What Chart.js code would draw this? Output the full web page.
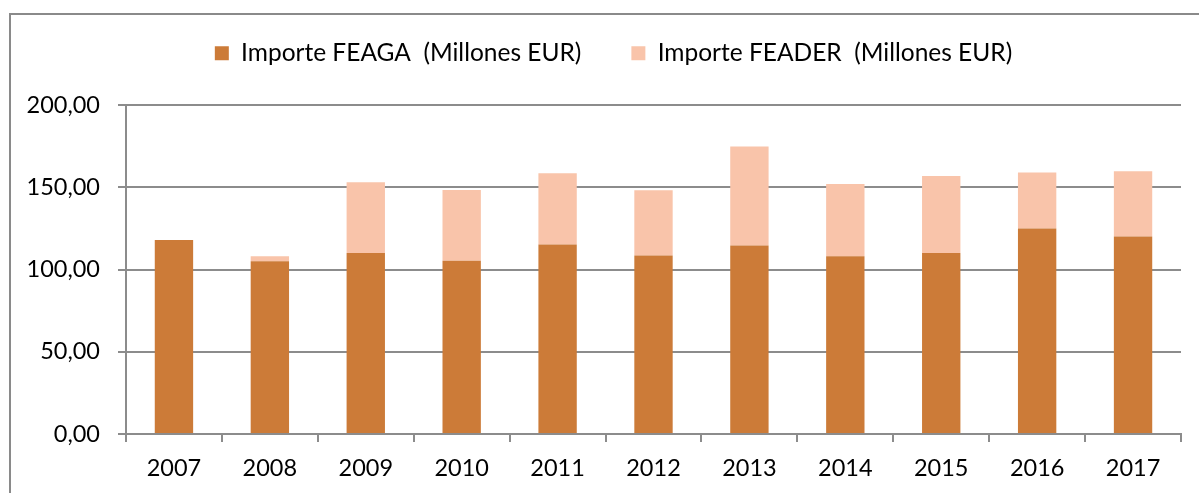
<!DOCTYPE html>
<html>
<head>
<meta charset="utf-8">
<script src="https://cdn.jsdelivr.net/npm/chart.js@4/dist/chart.umd.min.js"></script>
<style>
  html, body { margin: 0; padding: 0; background: #fff; overflow: hidden; }
  canvas { display: block; }
</style>
</head>
<body>
<canvas id="chart" width="1199" height="493"></canvas>
<script>
let years = ["2007", "2008", "2009", "2010", "2011", "2012", "2013", "2014", "2015", "2016", "2017"];
let feaga = [118, 105, 110, 105.3, 115.2, 108.5, 114.6, 108, 110, 125, 120];
let feader = [0, 3, 43, 43, 43.3, 39.7, 60.2, 43.9, 46.9, 34, 39.8];
let yTicks = [0, 50, 100, 150, 200];

let gray = "#8c8c8c";
let font = "Lato";

// border of the chart frame (left + top only, rest is cut off)
let framePlugin = {
    id: "frame",
    beforeDraw(chart) {
        let ctx = chart.ctx;
        ctx.save();
        ctx.strokeStyle = "#8a8a8a";
        ctx.lineWidth = 2;
        ctx.beginPath();
        ctx.moveTo(10, 493);
        ctx.lineTo(10, 14);
        ctx.lineTo(1199, 14);
        ctx.stroke();
        ctx.restore();
    }
};

// fixed legend height so the plot starts where it should
let legendFix = {
    id: "legendFix",
    beforeInit(chart) {
        let orig = chart.legend.fit;
        chart.legend.fit = function () {
            orig.call(this);
            this.height = 114;
        };
    },
    afterLayout(chart) {
        chart.legend.left += 18;
        chart.legend.right += 18;
    }
};

new Chart(document.getElementById("chart"), {
    type: "bar",
    data: {
        labels: years,
        datasets: [
            {
                label: "Importe FEAGA  (Millones EUR)",
                data: feaga,
                backgroundColor: "#cc7b38",
                borderWidth: 0,
                barPercentage: 0.4,
                categoryPercentage: 1
            },
            {
                label: "Importe FEADER  (Millones EUR)",
                data: feader,
                backgroundColor: "#f9c4aa",
                borderWidth: 0,
                barPercentage: 0.4,
                categoryPercentage: 1
            }
        ]
    },
    options: {
        responsive: false,
        animation: false,
        layout: { padding: { top: -9, left: 10, right: 18, bottom: 0 } },
        plugins: {
            tooltip: { enabled: false },
            legend: {
                position: "top",
                labels: {
                    boxWidth: 14,
                    boxHeight: 14,
                    padding: 50,
                    color: "#000",
                    font: { family: font, size: 24.5 }
                }
            }
        },
        scales: {
            x: {
                stacked: true,
                afterFit: s => { s.height = 59; },
                grid: {
                    drawOnChartArea: false,
                    drawTicks: true,
                    tickLength: 8,
                    color: gray,
                    lineWidth: 2,
                    offset: true
                },
                border: { color: gray, width: 2 },
                ticks: { color: "#000", padding: 12, maxRotation: 0, font: { family: font, size: 23.5 } }
            },
            y: {
                stacked: true,
                min: 0,
                max: 200,
                afterFit: s => { s.width = 116; },
                afterBuildTicks: s => { s.ticks = yTicks.map(v => ({ value: v })); },
                grid: { color: gray, lineWidth: 2, tickLength: 8 },
                border: { color: gray, width: 2 },
                ticks: {
                    color: "#000",
                    padding: 18,
                    font: { family: font, size: 23.5 },
                    callback: v => v.toFixed(2).replace(".", ",")
                }
            }
        }
    },
    plugins: [framePlugin, legendFix]
});
</script>
</body>
</html>
